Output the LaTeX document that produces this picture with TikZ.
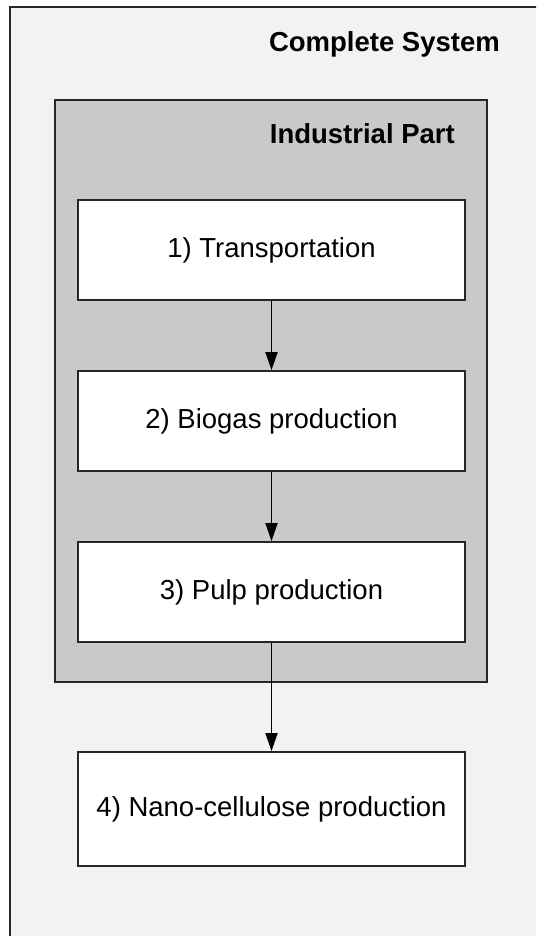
\documentclass[tikz,border=0pt]{standalone}
\usepackage{fontspec}
\setmainfont{Liberation Sans}
\usetikzlibrary{arrows.meta}
\definecolor{outerfill}{HTML}{F2F2F2}
\definecolor{innerfill}{HTML}{C9C9C9}
\begin{document}
\begin{tikzpicture}[x=1pt,y=-1pt,
  frame/.style={draw=black!85,line width=1.8pt},
  stepbox/.style={frame,fill=white,minimum width=387pt,minimum height=100pt,
    inner sep=0pt,text height=15pt,text depth=0pt,
    font=\fontsize{27.5}{32}\selectfont},
  title/.style={anchor=base east,inner sep=0pt,font=\fontsize{27.5}{32}\selectfont\bfseries},
  flow/.style={line width=1.8pt,-{Triangle[length=18pt,width=12pt]}}]
\useasboundingbox (0,0) rectangle (536,936);
\clip (0,0) rectangle (536,936);
\fill[white] (0,0) rectangle (536,936);
\path[frame,fill=outerfill] (10,7) rectangle (560,960);
\node[title] (cs) at (500,52) {Complete System};
\path[frame,fill=innerfill] (55,100) rectangle (487,682);
\node[title] (ip) at (455,144) {Industrial Part};
\node[stepbox] (s1) at (271.5,250) {1) Transportation};
\node[stepbox] (s2) at (271.5,421) {2) Biogas production};
\node[stepbox] (s3) at (271.5,592) {3) Pulp production};
\node[stepbox,minimum height=114pt] (s4) at (271.5,809) {4) Nano-cellulose production};
\draw[flow] (s1) -- (s2);
\draw[flow] (s2) -- (s3);
\draw[flow] (s3) -- (s4);
\end{tikzpicture}
\end{document}
